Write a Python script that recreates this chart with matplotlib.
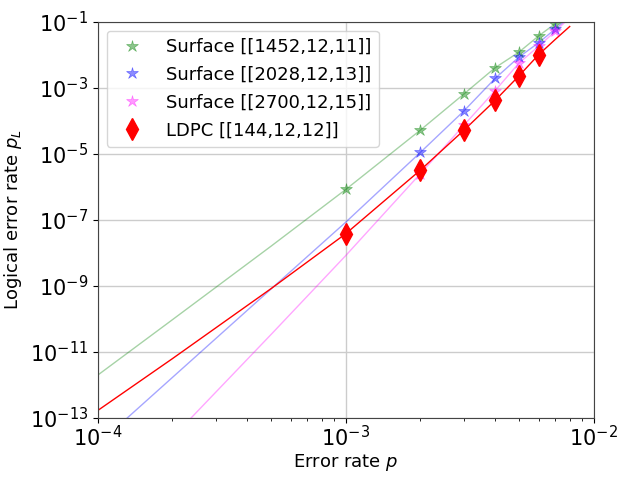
import numpy as np
import matplotlib
matplotlib.use("Agg")
import matplotlib.pyplot as plt
from matplotlib.ticker import LogLocator, NullLocator

# simulated points
p_pts = [1e-3, 2e-3, 3e-3, 4e-3, 5e-3, 6e-3, 7e-3]
surf11_pts = [8.3e-7, 5.2e-5, 6.5e-4, 4.0e-3, 1.2e-2, 3.7e-2, 8.7e-2]
p_pts_b = [2e-3, 3e-3, 4e-3, 5e-3, 6e-3, 7e-3]
surf13_pts = [1.1e-5, 2.0e-4, 1.9e-3, 8.5e-3, 2.3e-2, 6.0e-2]
surf15_pts = [2.5e-6, 7.4e-5, 8.1e-4, 5.6e-3, 1.8e-2, 5.1e-2]
p_ldpc = [1e-3, 2e-3, 3e-3, 4e-3, 5e-3, 6e-3]
ldpc_pts = [3.8e-8, 3.2e-6, 5.2e-5, 4.1e-4, 2.3e-3, 1.0e-2]

# fitted curves
p_fit = [1e-4, 2e-4, 5e-4, 1e-3, 2e-3, 3e-3, 4e-3, 5e-3, 6e-3, 7e-3, 8e-3]
surf11_fit = [2.0e-12, 9.5e-11, 1.6e-8, 8.3e-7, 5.2e-5, 6.5e-4, 4.0e-3, 1.2e-2, 3.7e-2, 8.7e-2, 0.19]
surf13_fit = [1.6e-14, 1.7e-12, 8.1e-10, 8.5e-8, 1.1e-5, 2.0e-4, 1.9e-3, 8.5e-3, 2.3e-2, 6.0e-2, 0.14]
surf15_fit = [1.2e-16, 2.6e-14, 3.4e-11, 8.3e-9, 2.5e-6, 7.4e-5, 8.1e-4, 5.6e-3, 1.8e-2, 5.1e-2, 0.13]
ldpc_fit = [1.7e-13, 6.3e-12, 8.3e-10, 3.8e-8, 3.2e-6, 5.2e-5, 4.1e-4, 2.3e-3, 1.0e-2, 2.9e-2, 7.1e-2]

labels = ["Surface [[1452,12,11]]", "Surface [[2028,12,13]]",
          "Surface [[2700,12,15]]", "LDPC [[144,12,12]]"]

fig = plt.figure(figsize=(6.35, 4.8), dpi=100)
ax = fig.add_axes([0.154, 0.129, 0.781, 0.826])

ax.plot(p_fit, surf11_fit, color="green", alpha=0.35, lw=1)
ax.plot(p_fit, surf13_fit, color="blue", alpha=0.35, lw=1)
ax.plot(p_fit, surf15_fit, color="magenta", alpha=0.35, lw=1)
ax.plot(p_fit, ldpc_fit, color="red", lw=1)

ax.plot(p_pts, surf11_pts, "*", color="green", alpha=0.45, ms=9, mew=0.5, label=labels[0])
ax.plot(p_pts_b, surf13_pts, "*", color="blue", alpha=0.45, ms=9, mew=0.5, label=labels[1])
ax.plot(p_pts_b, surf15_pts, "*", color="magenta", alpha=0.4, ms=9, mew=0.5, label=labels[2])
ax.plot(p_ldpc, ldpc_pts, "d", color="red", ms=11, label=labels[3])

ax.set_xscale("log")
ax.set_yscale("log")
ax.set_xlim(1e-4, 1e-2)
ax.set_ylim(1e-13, 1e-1)
ax.set_yticks([10.0**k for k in range(-13, 0, 2)])
ax.yaxis.set_minor_locator(NullLocator())
ax.tick_params(labelsize=15)
ax.tick_params(axis="x", pad=1.5)
for s in ax.spines.values():
    s.set_color("#444444")
ax.grid(True, which="major", color="#cccccc", lw=1)
ax.set_xlabel("Error rate $p$", fontsize=13, labelpad=1)
ax.set_ylabel("Logical error rate $p_L$", fontsize=13)
ax.legend(loc="upper left", fontsize=13, handletextpad=0.9, borderpad=0.4,
          labelspacing=0.55)

fig.savefig("out.png", dpi=100)
